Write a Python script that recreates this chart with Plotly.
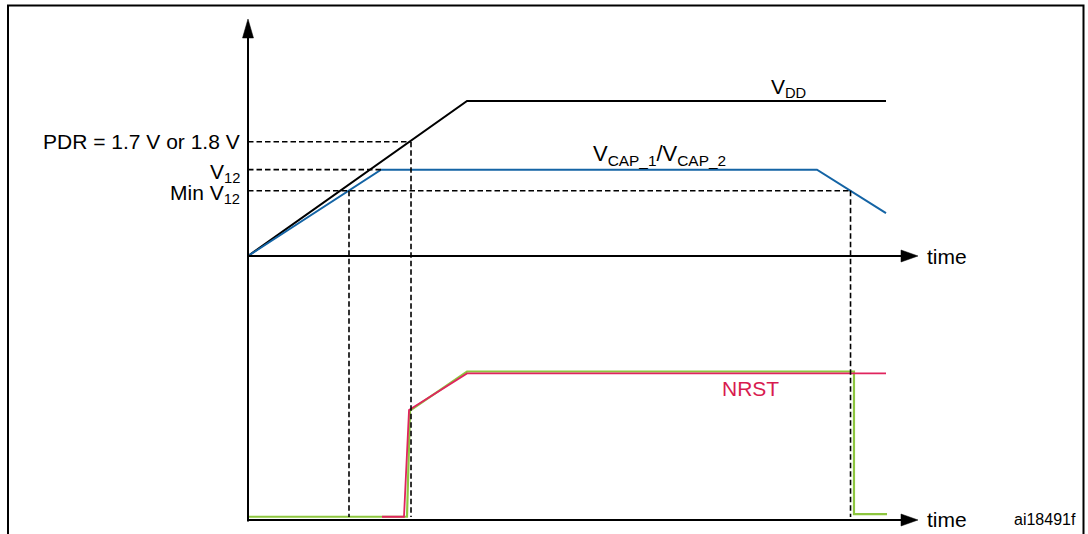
import plotly.graph_objects as go

# ---------------- data (time in arbitrary units, upper voltages normalised to V_DD = 1,
# lower signals normalised to their high level) ----------------
vdd_t = [0, 34.33, 100]
vdd_v = [0, 1.0, 1.0]

vcap_t = [0, 20.85, 89.18, 100]
vcap_v = [0, 0.557, 0.557, 0.277]

nrst_t = [21.0, 24.45, 25.24, 34.33, 100]
nrst_v = [0.022, 0.022, 0.741, 0.987, 0.987]

green_t = [0, 24.92, 25.39, 34.33, 94.98, 94.98, 100.16]
green_v = [0.022, 0.022, 0.737, 1.0, 1.0, 0.040, 0.040]

level_labels = ["PDR = 1.7 V or 1.8 V", "V<sub>12</sub>", "Min V<sub>12</sub>"]
level_values = [0.737, 0.557, 0.421]
level_end_t = [25.55, 20.85, 94.4]

drop_t = [15.83, 25.55, 94.44]
drop_level = [0.421, 0.737, 0.421]

# ---------------- layout constants (pixels) ----------------
W, H = 1088, 534
X0 = 248          # pixel of t = 0
PX_T = 6.38       # pixels per time unit
Y0_UP = 256       # pixel of upper zero
PX_V = 155        # pixels per upper unit
Y0_LO = 520       # pixel of lower zero
PX_N = 148.5      # pixels per lower unit
SPLIT = 300       # pixel boundary between the two panels

FONT = "Arial, 'Liberation Sans', sans-serif"
BLUE = "#1464A5"
RED = "#E0245E"
GREEN = "#8DC63F"
CRIMSON = "#D81B4F"


def fx(px):
    return px / W


def fy(py):
    return 1 - py / H


def up_py(v):
    return Y0_UP - v * PX_V


def lo_py(n):
    return Y0_LO - n * PX_N


split_frac = fy(SPLIT)

fig = go.Figure()
fig.add_trace(go.Scatter(x=vdd_t, y=vdd_v, mode="lines", name="VDD",
                         line=dict(color="black", width=2), xaxis="x", yaxis="y"))
fig.add_trace(go.Scatter(x=vcap_t, y=vcap_v, mode="lines", name="VCAP",
                         line=dict(color=BLUE, width=2), xaxis="x", yaxis="y"))
fig.add_trace(go.Scatter(x=green_t, y=green_v, mode="lines", name="green",
                         line=dict(color=GREEN, width=2.2), xaxis="x", yaxis="y2"))
fig.add_trace(go.Scatter(x=nrst_t, y=nrst_v, mode="lines", name="NRST",
                         line=dict(color=RED, width=1.8), xaxis="x", yaxis="y2"))

shapes = []
# frame
shapes.append(dict(type="rect", xref="paper", yref="paper",
                   x0=fx(8), x1=fx(1083.5), y0=fy(560), y1=fy(5.5),
                   line=dict(color="black", width=2), layer="below"))

DASH = dict(color="black", width=1.6, dash="5.5px,3px")
# horizontal dashed levels
for v, te in zip(level_values, level_end_t):
    shapes.append(dict(type="line", xref="x", yref="y", x0=0, x1=te, y0=v, y1=v,
                       line=DASH))
# vertical dashed drops to lower axis
for t, v in zip(drop_t, drop_level):
    shapes.append(dict(type="line", xref="x", yref="paper", x0=t, x1=t,
                       y0=fy(up_py(v)), y1=fy(lo_py(0) - 3), line=DASH))

AX = dict(color="black", width=2)
# vertical axis
shapes.append(dict(type="line", xref="x", yref="paper", x0=0, x1=0,
                   y0=fy(lo_py(0) + 1.5), y1=fy(36), line=AX))
# horizontal time axes
t_base = (902 - X0) / PX_T
shapes.append(dict(type="line", xref="x", yref="y", x0=0, x1=t_base, y0=0, y1=0, line=AX))
shapes.append(dict(type="line", xref="x", yref="y2", x0=0, x1=t_base, y0=0, y1=0, line=AX))


def tri(points):
    p = [f"{fx(a):.5f},{fy(b):.5f}" for a, b in points]
    return dict(type="path", xref="paper", yref="paper",
                path="M" + " L".join(p) + " Z", fillcolor="black",
                line=dict(color="black", width=0.5))


# arrowheads
shapes.append(tri([(X0, 19), (X0 - 5.5, 38), (X0 + 5.5, 38)]))
for py in (up_py(0), lo_py(0)):
    shapes.append(tri([(918, py), (901, py - 6), (901, py + 6)]))

annotations = []
LBL = dict(family=FONT, size=21, color="black")
for lab, v in zip(level_labels, level_values):
    annotations.append(dict(xref="paper", yref="paper", x=fx(X0 - 6), y=fy(up_py(v)),
                            xanchor="right", yanchor="middle", text=lab, showarrow=False,
                            font=LBL, yshift=(-3 if "sub" in lab else 0)))
annotations.append(dict(xref="paper", yref="paper", x=fx(788), y=fy(88),
                        text="V<sub>DD</sub>", showarrow=False, font=LBL,
                        xanchor="center", yanchor="middle"))
annotations.append(dict(xref="paper", yref="paper", x=fx(659), y=fy(155),
                        text="V<sub>CAP_1</sub>/V<sub>CAP_2</sub>", showarrow=False,
                        font=dict(family=FONT, size=22, color="black"),
                        xanchor="center", yanchor="middle"))
annotations.append(dict(xref="paper", yref="paper", x=fx(750), y=fy(388),
                        text="NRST", showarrow=False,
                        font=dict(family=FONT, size=21, color=CRIMSON),
                        xanchor="center", yanchor="middle"))
for py in (up_py(0), lo_py(0) - 1):
    annotations.append(dict(xref="paper", yref="paper", x=fx(925), y=fy(py),
                            text="time", showarrow=False, font=LBL,
                            xanchor="left", yanchor="middle"))
annotations.append(dict(xref="paper", yref="paper", x=fx(1078), y=fy(519),
                        text="ai18491f", showarrow=False,
                        font=dict(family=FONT, size=16, color="black"),
                        xanchor="right", yanchor="middle"))

fig.update_layout(
    width=W, height=H,
    margin=dict(l=0, r=0, t=0, b=0),
    paper_bgcolor="white", plot_bgcolor="white",
    showlegend=False,
    xaxis=dict(range=[-X0 / PX_T, (W - X0) / PX_T], visible=False, fixedrange=True),
    yaxis=dict(domain=[split_frac, 1], range=[(Y0_UP - SPLIT) / PX_V, Y0_UP / PX_V],
               visible=False, fixedrange=True),
    yaxis2=dict(domain=[0, split_frac], range=[(Y0_LO - H) / PX_N, (Y0_LO - SPLIT) / PX_N],
                visible=False, fixedrange=True),
    shapes=shapes,
    annotations=annotations,
)

fig.write_html(
    "out.html",
    config={"displayModeBar": False},
    post_script="document.body.style.margin='0';document.body.style.overflow='hidden';",
)
